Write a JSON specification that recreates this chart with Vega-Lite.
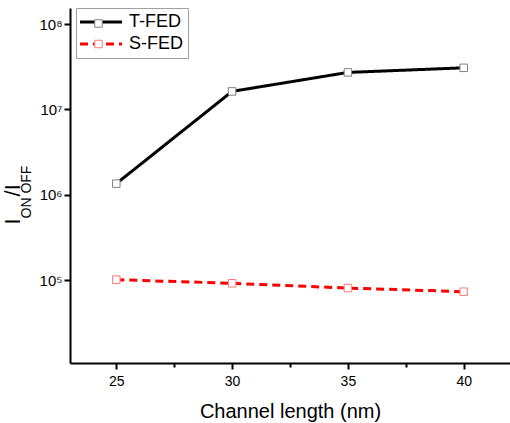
{
  "$schema": "https://vega.github.io/schema/vega-lite/v6.json",
  "width": 440,
  "height": 355,
  "autosize": "none",
  "padding": {"left": 70, "top": 8, "right": 0, "bottom": 60},
  "background": "white",
  "config": {
    "view": {"stroke": null},
    "font": "Liberation Sans",
    "axis": {
      "grid": false,
      "domainColor": "black",
      "domainWidth": 2,
      "tickColor": "black",
      "tickWidth": 2,
      "labelColor": "black",
      "titleColor": "black",
      "labelFont": "Liberation Sans",
      "titleFont": "Liberation Sans",
      "titleFontWeight": "normal"
    }
  },
  "data": {
    "values": [
      {"L": 25, "r": 1350000, "s": "T-FED"},
      {"L": 30, "r": 16300000, "s": "T-FED"},
      {"L": 35, "r": 27200000, "s": "T-FED"},
      {"L": 40, "r": 30800000, "s": "T-FED"},
      {"L": 25, "r": 101000, "s": "S-FED"},
      {"L": 30, "r": 91500, "s": "S-FED"},
      {"L": 35, "r": 80500, "s": "S-FED"},
      {"L": 40, "r": 73000, "s": "S-FED"}
    ]
  },
  "layer": [
    {
      "mark": {"type": "line", "strokeWidth": 3},
      "encoding": {
        "x": {
          "field": "L",
          "type": "quantitative",
          "scale": {"domain": [23, 42], "nice": false, "zero": false},
          "axis": {
            "values": [25, 27.5, 30, 32.5, 35, 37.5, 40],
            "labelExpr": "datum.value % 5 == 0 ? datum.label : ''",
            "tickSize": {"condition": {"test": "datum.value % 5 == 0", "value": 6}, "value": 4},
            "labelFontSize": 14,
            "labelPadding": 5,
            "labelFlush": false,
            "labelOverlap": false,
            "title": "Channel length (nm)",
            "titleFontSize": 20,
            "titleBaseline": "alphabetic",
            "titleY": 54
          }
        },
        "y": {
          "field": "r",
          "type": "quantitative",
          "scale": {"type": "log", "domain": [10641, 154900000], "nice": false},
          "axis": {
            "values": [100000, 1000000, 10000000, 100000000],
            "labelExpr": "datum.value == 100000 ? '10⁵' : datum.value == 1000000 ? '10⁶' : datum.value == 10000000 ? '10⁷' : '10⁸'",
            "labelFontSize": 15,
            "tickSize": 6,
            "labelPadding": 2,
            "title": "I\u2003/I",
            "titleFontSize": 22,
            "titleAngle": 270,
            "titleAlign": "left",
            "titleBaseline": "alphabetic",
            "titleX": -51,
            "titleY": 216
          }
        },
        "color": {
          "field": "s",
          "type": "nominal",
          "scale": {"range": ["#ff0000", "#000000"]},
          "legend": {
            "title": null,
            "values": ["T-FED", "S-FED"],
            "orient": "none",
            "legendX": 6,
            "legendY": 0,
            "zindex": 0,
            "strokeColor": "#a0a0a0",
            "fillColor": "white",
            "padding": 5,
            "symbolType": "M-1.43,0H4.57",
            "symbolSize": 196,
            "symbolStrokeWidth": 3,
            "labelFontSize": 18,
            "labelFont": "Liberation Sans",
            "labelColor": "black",
            "labelOffset": 30,
            "rowPadding": 4
          }
        },
        "strokeDash": {
          "field": "s",
          "type": "nominal",
          "scale": {"range": [[8, 5], [1, 0]]},
          "legend": {
            "title": null,
            "values": ["T-FED", "S-FED"],
            "orient": "none",
            "legendX": 6,
            "legendY": 0,
            "zindex": 0,
            "strokeColor": "#a0a0a0",
            "fillColor": "white",
            "padding": 5,
            "symbolType": "M-1.43,0H4.57",
            "symbolSize": 196,
            "symbolStrokeWidth": 3,
            "labelFontSize": 18,
            "labelFont": "Liberation Sans",
            "labelColor": "black",
            "labelOffset": 30,
            "rowPadding": 4
          }
        }
      }
    },
    {
      "mark": {"type": "square", "size": 56, "fill": "white", "strokeWidth": 1, "opacity": 1},
      "encoding": {
        "x": {"field": "L", "type": "quantitative"},
        "y": {
          "field": "r",
          "type": "quantitative",
          "axis": {
            "orient": "left",
            "labels": false,
            "ticks": false,
            "domain": false,
            "title": "ON   OFF",
            "titleFontSize": 14,
            "titleAngle": 270,
            "titleAlign": "left",
            "titleBaseline": "alphabetic",
            "titleX": -40,
            "titleY": 210
          }
        },
        "stroke": {
          "field": "s",
          "type": "nominal",
          "scale": {"domain": ["T-FED", "S-FED"], "range": ["#808080", "#ff7a7a"]},
          "legend": {
            "title": null,
            "orient": "none",
            "legendX": 19,
            "legendY": 6,
            "zindex": 2,
            "padding": 5,
            "symbolSize": 56,
            "symbolStrokeWidth": 1,
            "symbolFillColor": "white",
            "labelExpr": "''",
            "labelFontSize": 1,
            "labelOffset": 0,
            "rowPadding": 7.5
          }
        }
      }
    }
  ],
  "resolve": {"axis": {"y": "independent"}}
}
